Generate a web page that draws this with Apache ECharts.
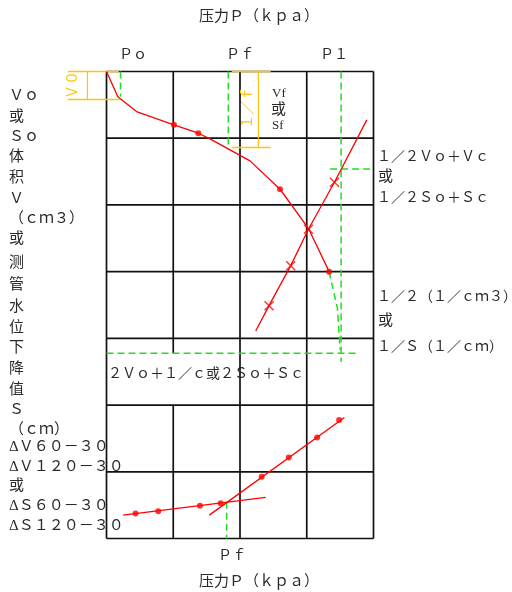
<!DOCTYPE html>
<html>
<head>
<meta charset="utf-8">
<script src="https://cdn.jsdelivr.net/npm/echarts@6/dist/echarts.min.js"></script>
<style>
html, body { margin: 0; padding: 0; background: #fff; }
#chart { width: 512px; height: 592px; }
</style>
</head>
<body>
<div id="chart"></div>
<script>
// chart units: P 100 per column, V 100 per row (counted downward)
const gridXs = [0, 100, 200, 300, 400];
const gridYs = [0, 100, 200, 300, 400, 500, 600, 700];
const gapX = 100, gapFrom = 422.5, gapTo = 500;   // x=100 line is broken in the 2Vo row

// P-V curve
const pvCurve = [[0, 0], [17, 38], [45, 60], [101, 80], [137.5, 92.5], [155, 101], [215, 134], [260, 176.5], [302.5, 235], [333.5, 300]];
const pvDots = [[101, 80], [137.5, 92.5], [260, 176.5], [333.5, 300]];
const pvTail = [[333.5, 300], [346, 355], [350, 417]];

// 1/V line
const invLine = [[390, 72.5], [341.5, 166], [302.5, 236.5], [276, 291], [243.5, 351], [223.5, 389]];
const invCross = [[341.5, 166], [302.5, 236.5], [276, 291], [243.5, 351]];

// creep lines
const creepLow = [[25, 665], [238.5, 638.5]];
const creepLowDots = [[43.5, 662.5], [77.5, 659], [140, 651], [171, 647]];
const creepHigh = [[154, 665], [356.5, 518.5]];
const creepHighDots = [[232.5, 607.5], [273, 578.5], [315.5, 548.5], [348.5, 522.5]];

// characteristic values
const pPo = 21, pPf = 182.5, pP1 = 351.5, pPfCreep = 180;
const vV0 = 42, vVf = 114, vHalf = 146, v2Vo = 422.5;

const leftLabels = ['Ｖｏ', '或', 'Ｓｏ', '体', '积', 'Ｖ', '（ｃｍ３）', '或', '测', '管', '水', '位', '下', '降', '值', 'Ｓ', '（ｃｍ）',
    'ΔＶ６０－３０', 'ΔＶ１２０－３０', '或', 'ΔＳ６０－３０', 'ΔＳ１２０－３０'];
const leftLabelYs = [96, 117, 137, 157, 178, 199, 219, 239, 263, 285, 307, 328, 348, 369, 390, 410, 430, 447, 467, 486, 506, 526];

const RED = '#ff0000', GREEN = '#22dd22', YELLOW = '#ffc20e', TXT = '#2a2a2a';
const FONT = '"Liberation Serif", "Noto Sans CJK SC"';

// grid line segments
var gridSegs = [];
gridXs.forEach(function (x) {
    if (x === gapX) {
        gridSegs.push({ coords: [[x, 0], [x, gapFrom]] });
        gridSegs.push({ coords: [[x, gapTo], [x, 700]] });
    } else {
        gridSegs.push({ coords: [[x, 0], [x, 700]] });
    }
});
gridYs.forEach(function (y) {
    gridSegs.push({ coords: [[0, y], [400, y]] });
});

var greenSegs = [
    { coords: [[pPo, 0], [pPo, vV0 - 4]] },
    { coords: [[pPf, 0], [pPf, vVf]] },
    { coords: [[pP1, 0], [pP1, 435]] },
    { coords: [[335, vHalf], [400, vHalf]] },
    { coords: [[0, v2Vo], [377, v2Vo]] },
    { coords: pvTail },
    { coords: [[pPfCreep, 645], [pPfCreep, 700]] }
];

var yellowSegs = [
    { coords: [[-58, 0], [18.5, 0]] },
    { coords: [[-58, vV0], [20, vV0]] },
    { coords: [[187.5, 0], [246, 0]] },
    { coords: [[187.5, vVf], [246, vVf]] }
];
var yellowArrows = [
    { coords: [[-28.5, 0], [-28.5, vV0]] },
    { coords: [[227.5, 0], [227.5, vVf]] }
];

function segSeries(data, color, width, type, extra) {
    var s = {
        type: 'lines',
        coordinateSystem: 'cartesian2d',
        polyline: true,
        clip: false,
        silent: true,
        data: data,
        lineStyle: { color: color, width: width, type: type, opacity: 1, curveness: 0 }
    };
    return Object.assign(s, extra || {});
}

function txt(text, x, y, size, opts) {
    opts = opts || {};
    return {
        type: 'text',
        x: x,
        y: y,
        rotation: opts.rotation || 0,
        z: 100,
        style: {
            text: text,
            font: size + 'px ' + FONT,
            fill: opts.fill || TXT,
            textAlign: opts.align || 'left',
            align: opts.align || 'left',
            textVerticalAlign: 'middle',
            verticalAlign: 'middle'
        }
    };
}

var graphics = [];
graphics.push(txt('压力Ｐ（ｋｐａ）', 199, 17, 15));
graphics.push(txt('压力Ｐ（ｋｐａ）', 199, 582, 15));
graphics.push(txt('Ｐｏ', 119, 55, 14));
graphics.push(txt('Ｐｆ', 226, 55, 14));
graphics.push(txt('Ｐ１', 320, 55, 14));
graphics.push(txt('Ｐｆ', 218, 556, 14));
leftLabels.forEach(function (t, i) {
    graphics.push(txt(t, 9, leftLabelYs[i], 15));
});
graphics.push(txt('１／２Ｖｏ＋Ｖｃ', 377, 157, 14));
graphics.push(txt('或', 378, 177, 15));
graphics.push(txt('１／２Ｓｏ＋Ｓｃ', 377, 198, 14));
graphics.push(txt('１／２（１／ｃｍ３）', 377, 297, 14));
graphics.push(txt('或', 378, 321, 15));
graphics.push(txt('１／Ｓ（１／ｃｍ）', 377, 347, 14));
graphics.push(txt('２Ｖｏ＋１／ｃ或２Ｓｏ＋Ｓｃ', 108, 374, 14));
graphics.push(txt('Vf', 272, 94, 13));
graphics.push(txt('或', 271, 110, 15));
graphics.push(txt('Sf', 272, 126, 13));
graphics.push(txt('１／ｆ', 248, 108, 14, { fill: YELLOW, rotation: Math.PI / 2, align: 'center' }));
graphics.push(txt('Ｖ０', 73, 85, 14, { fill: YELLOW, rotation: Math.PI / 2, align: 'center' }));

var crossSymbol = 'path://M0,1L1,0L5,4L9,0L10,1L6,5L10,9L9,10L5,6L1,10L0,9L4,5Z';

var option = {
    animation: false,
    backgroundColor: '#fff',
    grid: { left: 106.5, top: 71.5, width: 267, height: 467 },
    xAxis: { type: 'value', min: 0, max: 400, show: false },
    yAxis: { type: 'value', min: 0, max: 700, inverse: true, show: false },
    graphic: graphics,
    series: [
        segSeries(gridSegs, '#111', 1.7, 'solid', { z: 1 }),
        segSeries(greenSegs, GREEN, 1.5, [7, 4], { z: 2 }),
        segSeries(yellowSegs, YELLOW, 1.5, 'solid', { z: 3 }),
        segSeries(yellowArrows, YELLOW, 1.2, 'solid', { z: 3, symbol: ['arrow', 'arrow'], symbolSize: 8 }),
        {
            type: 'line', data: pvCurve, symbol: 'none', clip: false, silent: true, z: 4,
            lineStyle: { color: RED, width: 1.3 }
        },
        {
            type: 'line', data: invLine, symbol: 'none', clip: false, silent: true, z: 4,
            lineStyle: { color: RED, width: 1.3 }
        },
        {
            type: 'line', data: creepLow, symbol: 'none', clip: false, silent: true, z: 4,
            lineStyle: { color: RED, width: 1.3 }
        },
        {
            type: 'line', data: creepHigh, symbol: 'none', clip: false, silent: true, z: 4,
            lineStyle: { color: RED, width: 1.3 }
        },
        {
            type: 'scatter', data: pvDots.concat(creepLowDots, creepHighDots), symbol: 'circle', symbolSize: 6,
            silent: true, z: 5, itemStyle: { color: RED }
        },
        {
            type: 'scatter', data: invCross, symbol: crossSymbol, symbolSize: 10,
            silent: true, z: 5, itemStyle: { color: RED }
        }
    ]
};

var chart = echarts.init(document.getElementById('chart'));
chart.setOption(option);
</script>
</body>
</html>
